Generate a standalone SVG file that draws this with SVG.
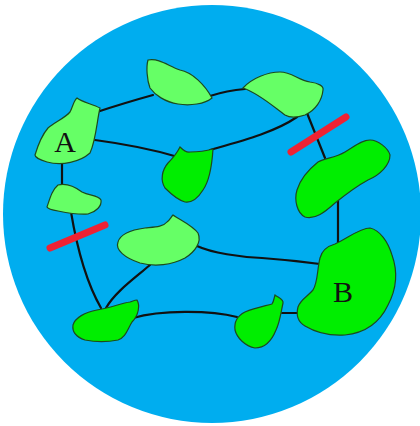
<svg xmlns="http://www.w3.org/2000/svg" width="420" height="426" viewBox="0 0 420 426">
  <style>
    .light { fill: #66ff66; stroke: #1d4a1d; stroke-width: 1.2; }
    .bright { fill: #00ee00; stroke: #1d4a1d; stroke-width: 1.2; }
    .link { fill: none; stroke: #111; stroke-width: 2.2; stroke-linecap: round; }
    .cut { stroke: #ee2233; stroke-width: 7; stroke-linecap: round; }
    .label { font-family: "Liberation Serif", "DejaVu Serif", serif; font-size: 30px; fill: #111; text-anchor: middle; }
  </style>
  <rect width="420" height="426" fill="#ffffff"/>
  <circle cx="212" cy="214" r="209" fill="#00adef"/>

  <g id="connectors">
    <path class="link" d="M97,112 C115,106 135,100 153,95"/>
    <path class="link" d="M95,140 C125,144 155,150 178,157"/>
    <path class="link" d="M210,96 C222,92 232,90 245,89"/>
    <path class="link" d="M210,150 C245,140 275,132 297,117"/>
    <path class="link" d="M307,113 L325,158"/>
    <path class="link" d="M338,200 L338,246"/>
    <path class="link" d="M62,163 L62,186"/>
    <path class="link" d="M71,212 C76,242 85,280 101,308"/>
    <path class="link" d="M150,265 C135,278 115,292 106,308"/>
    <path class="link" d="M197,246 C212,253 240,257 262,258 C290,260 305,262 320,264"/>
    <path class="link" d="M133,318 C160,310 210,310 237,317"/>
    <path class="link" d="M282,313 L299,313"/>
  </g>

  <g id="node-a">
    <path class="light" d="M77,98 C82,102 92,104 100,108 C97,120 96,140 90,153 C80,162 62,166 47,162 C40,160 35,157 35,155 C38,145 42,135 48,128 C55,122 65,118 70,112 C73,106 74,100 77,98 Z"/>
    <text class="label" x="65" y="152">A</text>
  </g>
  <g id="node-top">
    <path class="light" d="M148,60 C160,58 168,66 180,70 C192,72 205,85 212,98 C205,104 190,106 178,104 C165,102 155,95 150,88 C147,80 146,67 148,60 Z"/>
  </g>
  <g id="node-top-right">
    <path class="light" d="M243,88 C252,78 268,72 280,72 C292,72 298,80 310,82 C318,83 324,86 323,90 C322,100 316,110 305,115 C296,118 290,118 285,115 C275,108 260,94 243,88 Z"/>
  </g>
  <g id="node-center">
    <path class="bright" d="M180,147 C183,150 186,153 190,152 C198,152 206,151 213,149 C212,165 210,180 203,190 C198,198 192,203 185,202 C178,200 172,195 165,188 C160,180 162,170 168,163 C173,158 177,153 180,147 Z"/>
  </g>
  <g id="node-right">
    <path class="bright" d="M370,140 C378,140 388,148 390,155 C390,165 380,175 368,180 C355,187 345,195 335,203 C325,212 315,220 305,217 C297,213 294,200 297,190 C300,180 308,170 318,162 C325,158 335,158 345,152 C355,146 362,140 370,140 Z"/>
  </g>
  <g id="node-left-small">
    <path class="light" d="M47,207 C50,198 52,190 58,185 C66,183 74,186 82,192 C90,196 98,195 101,200 C102,206 96,212 88,214 C78,215 68,213 58,211 C52,210 48,209 47,207 Z"/>
  </g>
  <g id="node-middle">
    <path class="light" d="M173,215 C180,220 192,225 198,233 C202,242 195,252 185,258 C172,265 155,267 140,263 C125,258 115,250 118,242 C120,235 130,230 145,228 C155,227 163,227 167,222 C170,220 171,217 173,215 Z"/>
  </g>
  <g id="node-bottom-left">
    <path class="bright" d="M137,300 C140,305 139,315 132,322 C127,330 126,337 118,340 C108,342 95,342 85,340 C76,337 72,332 73,325 C75,318 85,312 97,310 C110,308 122,303 130,302 C133,301 135,300 137,300 Z"/>
  </g>
  <g id="node-bottom-mid">
    <path class="bright" d="M275,295 C279,298 284,300 283,303 C281,312 280,322 276,330 C272,340 265,348 255,348 C245,346 237,338 235,330 C234,322 237,316 245,312 C255,308 265,306 272,304 C274,301 274,298 275,295 Z"/>
  </g>
  <g id="node-b">
    <path class="bright" d="M370,228 C380,230 388,242 392,255 C398,272 396,290 388,305 C380,322 365,333 345,335 C330,336 315,332 305,326 C298,322 296,315 298,307 C300,300 308,296 313,290 C318,282 317,270 320,258 C322,250 328,246 335,244 C348,238 360,228 370,228 Z"/>
    <text class="label" x="343" y="302">B</text>
  </g>

  <g id="cuts">
    <line class="cut" x1="291" y1="152" x2="346" y2="117"/>
    <line class="cut" x1="50" y1="248" x2="105" y2="225"/>
  </g>
</svg>
